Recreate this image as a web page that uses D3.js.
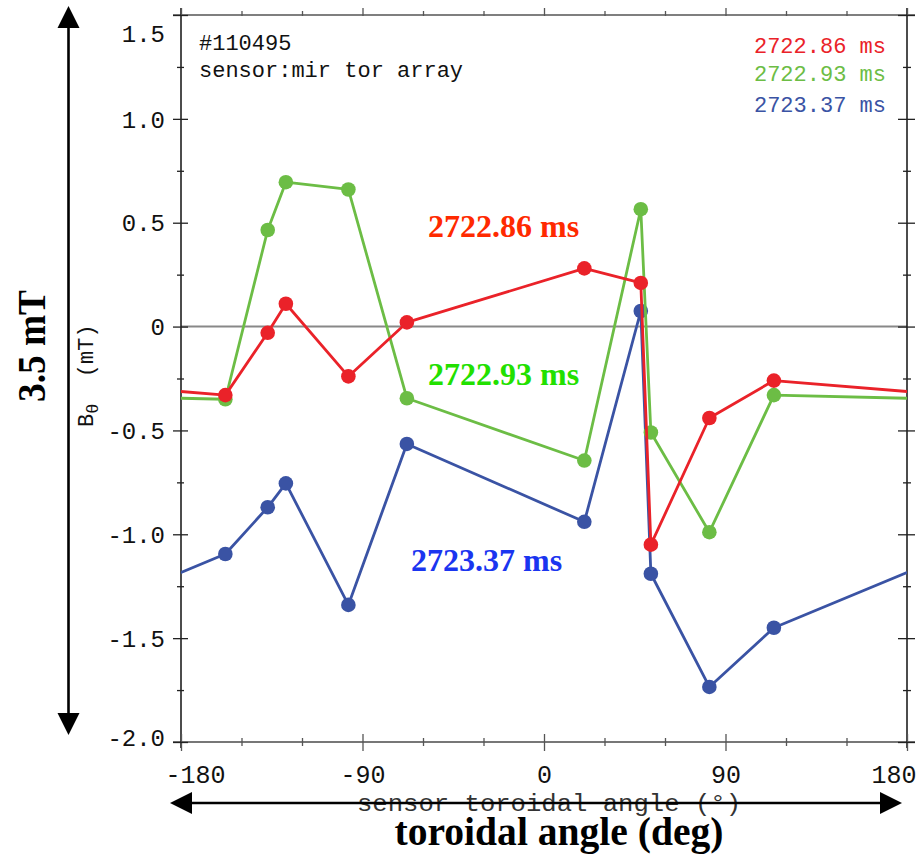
<!DOCTYPE html>
<html>
<head>
<meta charset="utf-8">
<script src="https://cdn.jsdelivr.net/npm/d3@7"></script>
<style>
  body { margin: 0; background: #fff; }
  svg { display: block; }
</style>
</head>
<body>
<div id="chart"></div>
<script>
// sensor toroidal angles (deg), mir tor array
const angles = [-158, -137, -128, -97, -68, 20, 48, 53, 82, 114];
const times = ["2722.86 ms", "2722.93 ms", "2723.37 ms"];
// B_theta (mT) per time slice
const bRed   = [-0.33, -0.03, 0.11, -0.24, 0.02, 0.28, 0.21, -1.05, -0.44, -0.26];
const bGreen = [-0.35, 0.465, 0.695, 0.66, -0.345, -0.645, 0.565, -0.51, -0.99, -0.33];
const bBlue  = [-1.095, -0.87, -0.755, -1.34, -0.565, -0.94, 0.075, -1.19, -1.735, -1.45];
const xTicks = [-180, -150, -120, -90, -60, -30, 0, 30, 60, 90, 120, 150, 180];
const xLabels = [-180, -90, 0, 90, 180];
const yTicks = [-2, -1.75, -1.5, -1.25, -1, -0.75, -0.5, -0.25, 0, 0.25, 0.5, 0.75, 1, 1.25, 1.5];
const yLabels = [-2, -1.5, -1, -0.5, 0, 0.5, 1, 1.5];

const config = {
  width: 920,
  height: 858,
  left: 181, right: 907, top: 15, bottom: 742,
  lineColors: ["#ea2229", "#6cbd45", "#3a53a4"],   // lines, dots, legend
  noteColors: ["#ff2a00", "#22e000", "#1a35f0"],   // big bold labels
  mono: "'Liberation Mono', 'DejaVu Sans Mono', monospace",
  serif: "'Liberation Serif', 'DejaVu Serif', serif"
};

const series = [
  { name: times[0], values: bRed, color: config.lineColors[0], note: config.noteColors[0], nx: 428, ny: 237 },
  { name: times[1], values: bGreen, color: config.lineColors[1], note: config.noteColors[1], nx: 428, ny: 385 },
  { name: times[2], values: bBlue, color: config.lineColors[2], note: config.noteColors[2], nx: 411, ny: 571 }
];

const x = d3.scaleLinear().domain([-180, 180]).range([config.left, config.right]);
const y = d3.scaleLinear().domain([-2, 1.5]).range([config.bottom, config.top]);

const svg = d3.select("#chart").append("svg")
  .attr("width", config.width)
  .attr("height", config.height);

svg.append("defs").append("clipPath").attr("id", "plotClip")
  .append("rect")
  .attr("x", config.left).attr("y", config.top)
  .attr("width", config.right - config.left)
  .attr("height", config.bottom - config.top);

// zero line
svg.append("line")
  .attr("x1", config.left).attr("x2", config.right)
  .attr("y1", y(0)).attr("y2", y(0))
  .attr("stroke", "#888").attr("stroke-width", 2);

// frame
svg.append("line").attr("x1", config.left - 8).attr("x2", config.right + 8)
  .attr("y1", config.top).attr("y2", config.top)
  .attr("stroke", "#555").attr("stroke-width", 1.5);
svg.append("line").attr("x1", config.left - 8).attr("x2", config.right + 8)
  .attr("y1", config.bottom).attr("y2", config.bottom)
  .attr("stroke", "#777").attr("stroke-width", 2);
[config.left, config.right].forEach(px => {
  svg.append("line").attr("x1", px).attr("x2", px)
    .attr("y1", config.top - 7).attr("y2", config.bottom + 6)
    .attr("stroke", "#111").attr("stroke-width", 1.5);
});

// ticks (crossing the frame lines)
const isMajorX = d => d % 90 === 0;
const isMajorY = d => Math.abs(d * 2 - Math.round(d * 2)) < 1e-9;

const gx = svg.append("g").attr("transform", `translate(0,${config.bottom})`)
  .call(d3.axisBottom(x).tickValues(xTicks).tickSize(9).tickFormat(""));
gx.select(".domain").remove();
gx.selectAll(".tick line")
  .attr("y1", d => isMajorX(d) ? -8 : -4)
  .attr("y2", d => isMajorX(d) ? 9 : 4)
  .attr("stroke", "#555").attr("stroke-width", 1.3);

const gxt = svg.append("g").attr("transform", `translate(0,${config.top})`)
  .call(d3.axisTop(x).tickValues(xTicks).tickSize(5).tickFormat(""));
gxt.select(".domain").remove();
gxt.selectAll(".tick line")
  .attr("y1", d => isMajorX(d) ? -7 : -4)
  .attr("y2", 1)
  .attr("stroke", "#555").attr("stroke-width", 1.3);

const gxl = svg.append("g").attr("transform", `translate(0,${config.bottom})`)
  .call(d3.axisBottom(x).tickValues(xLabels).tickSize(0).tickFormat(d => String(d)));
gxl.select(".domain").remove();
gxl.selectAll(".tick text")
  .attr("y", 41).attr("dy", 0)
  .attr("font-family", config.mono).attr("font-size", 25).attr("fill", "#111")
  .attr("text-anchor", (d, i) => i === 0 ? "start" : i === xLabels.length - 1 ? "end" : "middle")
  .attr("dx", (d, i) => i === 0 ? -16 : i === xLabels.length - 1 ? 9 : 0);

const gy = svg.append("g").attr("transform", `translate(${config.left},0)`)
  .call(d3.axisLeft(y).tickValues(yTicks).tickSize(8).tickFormat(""));
gy.select(".domain").remove();
gy.selectAll(".tick line")
  .attr("x1", d => isMajorY(d) ? -8 : -4)
  .attr("x2", d => isMajorY(d) ? 7 : 3)
  .attr("stroke", "#222").attr("stroke-width", 1.3);

const gyr = svg.append("g").attr("transform", `translate(${config.right},0)`)
  .call(d3.axisRight(y).tickValues(yTicks).tickSize(8).tickFormat(""));
gyr.select(".domain").remove();
gyr.selectAll(".tick line")
  .attr("x1", d => isMajorY(d) ? -9 : -4)
  .attr("x2", d => isMajorY(d) ? 8 : 4)
  .attr("stroke", "#222").attr("stroke-width", 1.3);

const gyl = svg.append("g").attr("transform", `translate(${config.left},0)`)
  .call(d3.axisLeft(y).tickValues(yLabels).tickSize(0).tickPadding(16)
    .tickFormat(d => d === 0 ? "0" : d.toFixed(1)));
gyl.select(".domain").remove();
gyl.selectAll(".tick text")
  .attr("font-family", config.mono).attr("font-size", 24).attr("fill", "#111")
  .attr("dy", d => d === 1.5 ? "1.1em" : d === -2 ? "0.15em" : "0.34em");

// series lines, wrapped periodically across +-180 and clipped
const line = d3.line().x(d => x(d[0])).y(d => y(d[1]));
const n = angles.length;

const gData = svg.append("g");
series.slice().reverse().forEach(s => {
  const pts = angles.map((a, i) => [a, s.values[i]]);
  const wrapped = [[angles[n - 1] - 360, s.values[n - 1]], ...pts, [angles[0] + 360, s.values[0]]];
  const g = gData.append("g");
  g.append("path")
    .attr("d", line(wrapped))
    .attr("clip-path", "url(#plotClip)")
    .attr("fill", "none")
    .attr("stroke", s.color)
    .attr("stroke-width", 2.8)
    .attr("stroke-linejoin", "round");
  g.selectAll("circle").data(pts).join("circle")
    .attr("cx", d => x(d[0]))
    .attr("cy", d => y(d[1]))
    .attr("r", 7.3)
    .attr("fill", s.color);
});

// header text
svg.append("text").attr("x", 199).attr("y", 50)
  .attr("font-family", config.mono).attr("font-size", 22).attr("fill", "#111")
  .text("#110495");
svg.append("text").attr("x", 199).attr("y", 77)
  .attr("font-family", config.mono).attr("font-size", 22).attr("fill", "#111")
  .text("sensor:mir tor array");

// legend
const legendY = [53, 81, 112];
series.forEach((s, i) => {
  svg.append("text").attr("x", 886).attr("y", legendY[i])
    .attr("text-anchor", "end")
    .attr("font-family", config.mono).attr("font-size", 22)
    .attr("fill", s.color)
    .text(s.name);
});

// big annotations
series.forEach(s => {
  svg.append("text").attr("x", s.nx).attr("y", s.ny)
    .attr("font-family", config.serif).attr("font-size", 32).attr("font-weight", "bold")
    .attr("fill", s.note)
    .text(s.name);
});

// y axis title
const yt = svg.append("text")
  .attr("transform", "translate(93,427) rotate(-90)")
  .attr("font-family", config.mono).attr("font-size", 22).attr("fill", "#111");
yt.append("tspan").text("B");
yt.append("tspan").attr("font-size", 17).attr("dy", 5).text("θ");
yt.append("tspan").attr("dy", -5).attr("xml:space", "preserve").text("  (mT)");

svg.append("text")
  .attr("transform", "translate(45,346) rotate(-90)")
  .attr("text-anchor", "middle")
  .attr("font-family", config.serif).attr("font-size", 40).attr("font-weight", "bold")
  .attr("textLength", 112).attr("lengthAdjust", "spacingAndGlyphs")
  .attr("fill", "#000")
  .text("3.5 mT");

// x axis titles
svg.append("text").attr("x", 549).attr("y", 811)
  .attr("text-anchor", "middle")
  .attr("font-family", config.mono).attr("font-size", 24).attr("fill", "#333")
  .attr("textLength", 384).attr("lengthAdjust", "spacingAndGlyphs")
  .text("sensor toroidal angle (°)");

// arrows
function arrow(x1, y1, x2, y2) {
  const head = 22, half = 11;
  const ang = Math.atan2(y2 - y1, x2 - x1);
  const g = svg.append("g");
  g.append("line")
    .attr("x1", x1 + Math.cos(ang) * head).attr("y1", y1 + Math.sin(ang) * head)
    .attr("x2", x2 - Math.cos(ang) * head).attr("y2", y2 - Math.sin(ang) * head)
    .attr("stroke", "#000").attr("stroke-width", 2.6);
  [[x1, y1, ang + Math.PI], [x2, y2, ang]].forEach(([tx, ty, a]) => {
    const bx = tx - Math.cos(a) * head, by = ty - Math.sin(a) * head;
    const pts = [[tx, ty],
      [bx + Math.sin(a) * half, by - Math.cos(a) * half],
      [bx - Math.sin(a) * half, by + Math.cos(a) * half]];
    g.append("path").attr("d", "M" + pts.join("L") + "Z").attr("fill", "#000");
  });
}
arrow(68.5, 6, 68.5, 735);
arrow(170, 803, 902, 803);

svg.append("text").attr("x", 559).attr("y", 845)
  .attr("text-anchor", "middle")
  .attr("font-family", config.serif).attr("font-size", 40).attr("font-weight", "bold")
  .attr("textLength", 329).attr("lengthAdjust", "spacingAndGlyphs")
  .attr("fill", "#000")
  .text("toroidal angle (deg)");
</script>
</body>
</html>
